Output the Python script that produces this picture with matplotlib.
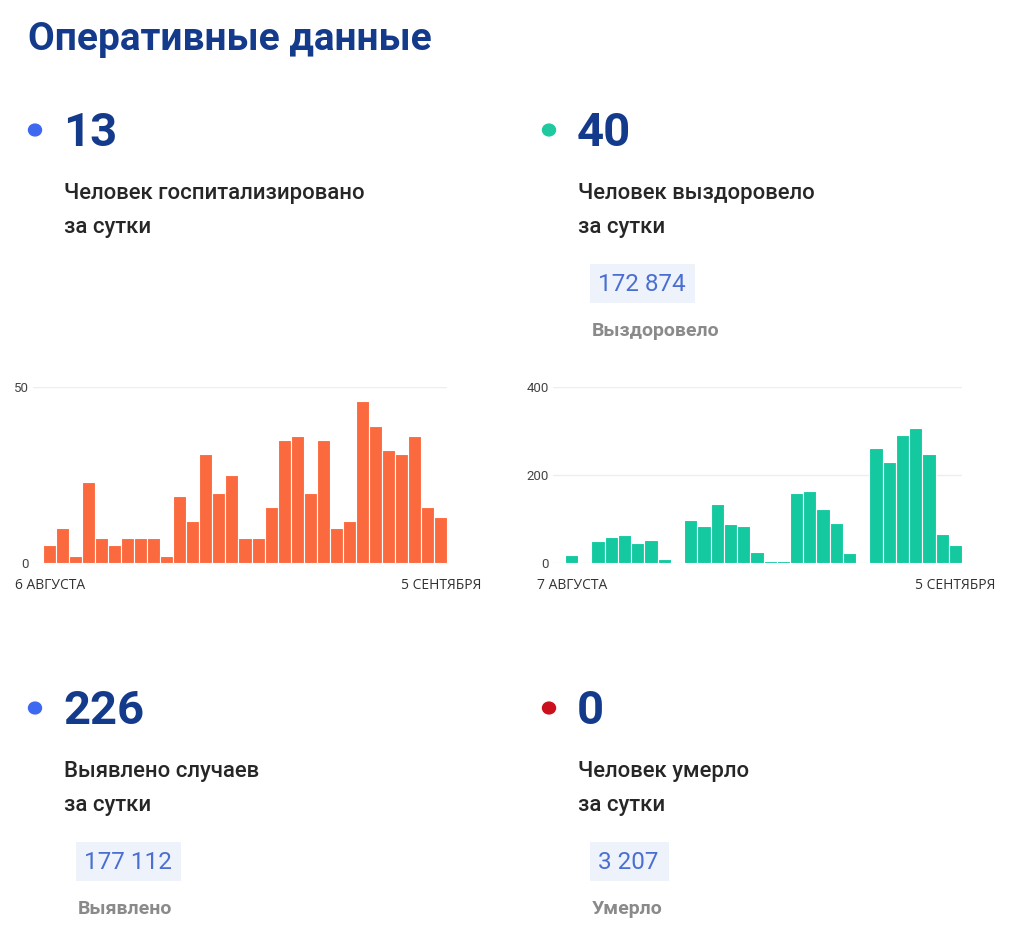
import matplotlib
matplotlib.use("Agg")
import matplotlib.pyplot as plt
from matplotlib.patches import Rectangle, Circle

plt.rcParams['font.family'] = ['Roboto', 'DejaVu Sans']

# Data
hosp_daily = [5, 10, 2, 23, 7, 5, 7, 7, 7, 2, 19, 12, 31, 20, 25, 7, 7, 16,
              35, 36, 20, 35, 10, 12, 46, 39, 32, 31, 36, 16, 13]
recov_daily = [18, 0, 51, 60, 64, 45, 53, 9, 0, 98, 83, 134, 88, 84, 24, 5, 5,
               158, 164, 123, 91, 22, 0, 261, 230, 292, 307, 248, 66, 40]
hosp_ticks = [0, 50]
recov_ticks = [0, 200, 400]
hosp_dates = ["6 АВГУСТА", "5 СЕНТЯБРЯ"]
recov_dates = ["7 АВГУСТА", "5 СЕНТЯБРЯ"]

big_numbers = ["13", "40", "226", "0"]
captions = [("Человек госпитализировано", "за сутки"),
            ("Человек выздоровело", "за сутки"),
            ("Выявлено случаев", "за сутки"),
            ("Человек умерло", "за сутки")]
totals = [None, "172 874", "177 112", "3 207"]
total_labels = [None, "Выздоровело", "Выявлено", "Умерло"]
dot_colors = ["#3d68f0", "#1fc9a0", "#3d68f0", "#cc0f1d"]

W, H = 1024, 930
NAVY = "#133a8b"

fig = plt.figure(figsize=(W / 100, H / 100), dpi=100)
fig.patch.set_facecolor("white")


def fx(x):
    return x / W


def fy(y):
    return 1 - y / H


def text(x, y, s, **kw):
    fig.text(fx(x), fy(y), s, va="baseline", **kw)


# title
text(28, 50, "Оперативные данные", fontsize=28, fontweight="bold", color=NAVY)

# blocks: (left x, number baseline)
blocks = [(64, 146), (578, 146), (64, 724), (578, 724)]
for i, (x0, yb) in enumerate(blocks):
    fig.patches.append(Circle((fx(x0 - 29), fy(yb - 16)), 6.5 / W,
                              transform=fig.transFigure, color=dot_colors[i]))
    text(x0 - 1, yb, big_numbers[i], fontsize=34, fontweight="bold", color=NAVY)
    text(x0, yb + 53, captions[i][0], fontsize=15.9, fontweight="medium", color="#262626")
    text(x0, yb + 87, captions[i][1], fontsize=15.9, fontweight="medium", color="#262626")
    if totals[i]:
        bx, by = x0 + 12, yb + 118
        bw = 14 + 13 * len(totals[i])
        fig.patches.append(Rectangle((fx(bx), fy(by + 39)), bw / W, 39 / H,
                                     transform=fig.transFigure,
                                     facecolor="#eef3fb", edgecolor="none"))
        text(bx + 8, by + 27, totals[i], fontsize=17.5, color="#4a6fd0")
        text(bx + 2, by + 72, total_labels[i], fontsize=14,
             fontweight="bold", color="#8a8a8a")


def bar_chart(left, right, top, bottom, values, ymax, ticks, color, pad_units):
    ax = fig.add_axes([fx(left), fy(bottom), (right - left) / W, (bottom - top) / H])
    ax.bar(range(len(values)), values, width=1.0, color=color,
           edgecolor="white", linewidth=0.8, zorder=2)
    ax.set_xlim(-0.5 - pad_units, len(values) - 0.5)
    ax.set_ylim(0, ymax)
    ax.set_yticks(ticks)
    ax.set_yticklabels([str(t) for t in ticks])
    ax.set_xticks([])
    ax.grid(axis="y", color="#eeeeee", linewidth=1, zorder=0)
    for s in ax.spines.values():
        s.set_visible(False)
    ax.tick_params(axis="y", length=0, pad=3, labelsize=9.5, labelcolor="#444444")
    return ax


bar_chart(33, 447, 387, 563, hosp_daily, 50, hosp_ticks, "#fb6a3f", 10 / 13.03)
bar_chart(553, 962, 387, 563, recov_daily, 400, recov_ticks, "#14c8a0", 12 / 13.22)

date_kw = dict(fontsize=10, color="#333333", family=["Open Sans", "DejaVu Sans"])
text(15, 589, hosp_dates[0], **date_kw)
text(481, 589, hosp_dates[1], ha="right", **date_kw)
text(537, 589, recov_dates[0], **date_kw)
text(995, 589, recov_dates[1], ha="right", **date_kw)

fig.savefig("out.png", dpi=100, facecolor="white")
